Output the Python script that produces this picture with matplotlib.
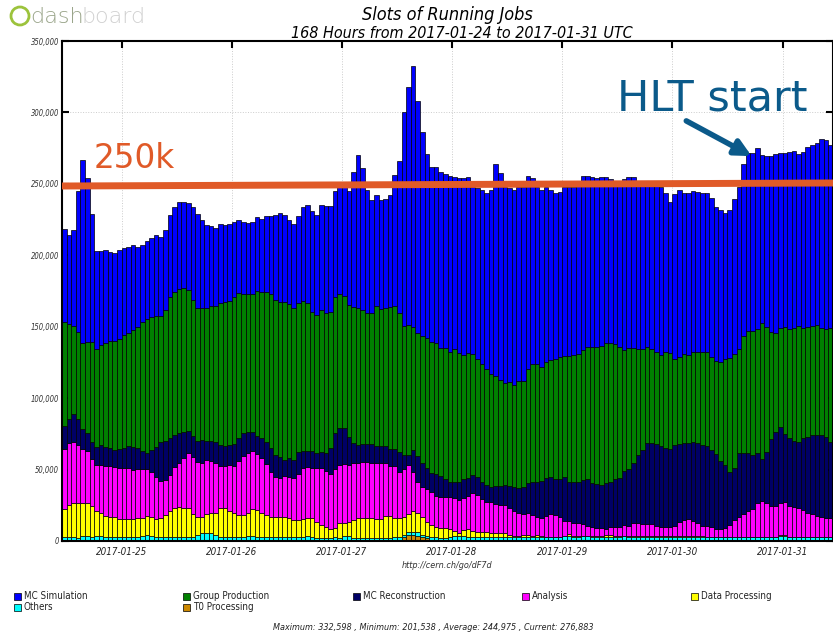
import numpy as np
import matplotlib
matplotlib.use("Agg")
from matplotlib import pyplot as plt
from matplotlib.patches import Rectangle, Ellipse

# ---- data (thousands of slots, one value per hour, 2017-01-24 11:00 .. 2017-01-31 10:00) ----
start_hour = 11
day_labels = ["2017-01-25", "2017-01-26", "2017-01-27", "2017-01-28",
              "2017-01-29", "2017-01-30", "2017-01-31"]

mc_simulation = [
    65.4, 62.1, 67.3, 99.0, 128.1, 114.5, 89.2, 68.8, 65.6, 65.2, 62.3, 61.5, 62.1, 60.8,
    59.7, 59.8, 56.0, 54.2, 54.8, 55.4, 56.7, 55.6, 55.8, 57.4, 59.5, 61.3, 60.2, 60.7,
    64.9, 65.4, 61.7, 57.7, 56.0, 54.8, 55.2, 53.5, 53.8, 52.9, 51.2, 50.4, 49.3, 50.3,
    51.4, 51.0, 53.0, 55.0, 59.7, 62.3, 60.9, 59.1, 58.7, 61.3, 65.4, 69.0, 70.5, 69.8,
    73.3, 74.7, 74.0, 74.0, 75.6, 76.5, 79.8, 94.0, 106.7, 99.3, 85.9, 79.3, 77.5, 76.6,
    76.5, 78.0, 91.5, 106.2, 149.5, 166.8, 182.6, 162.2, 143.0, 128.8, 122.1, 123.2, 122.7, 122.1,
    123.0, 120.8, 122.2, 124.0, 123.2, 117.1, 119.8, 122.1, 123.6, 129.1, 148.5, 145.1, 137.2, 135.5,
    136.8, 135.8, 135.8, 135.5, 130.1, 124.1, 124.0, 122.5, 119.3, 116.4, 115.9, 118.3, 118.3, 117.6,
    119.3, 122.3, 119.9, 118.5, 118.3, 118.3, 116.6, 114.4, 112.1, 114.0, 119.5, 119.7, 119.9, 114.4,
    114.4, 113.0, 114.8, 116.5, 117.4, 110.9, 106.1, 115.8, 116.7, 112.5, 113.5, 112.7, 112.0, 111.3,
    111.4, 111.3, 107.4, 106.2, 102.4, 103.6, 108.7, 113.4, 120.4, 124.2, 124.2, 126.7, 117.8, 119.9,
    123.4, 124.9, 122.5, 121.4, 124.3, 124.1, 120.2, 123.2, 125.8, 126.9, 127.0, 132.1, 132.1, 127.6]

group_production = [
    72.3, 66.5, 62.0, 60.6, 60.2, 64.1, 70.0, 68.2, 70.2, 73.2, 75.3, 76.3, 77.4, 79.3,
    79.3, 81.7, 84.7, 90.5, 93.4, 92.9, 91.3, 87.9, 91.7, 98.7, 100.1, 100.8, 100.8, 98.8,
    95.2, 93.1, 92.6, 93.5, 94.7, 95.1, 99.6, 100.8, 101.0, 102.7, 101.9, 97.7, 96.6, 97.0,
    101.7, 102.6, 105.0, 107.8, 108.5, 108.1, 110.4, 108.0, 106.6, 104.3, 105.2, 103.4, 97.5, 96.4,
    99.2, 98.0, 95.6, 95.6, 93.6, 92.6, 92.6, 95.2, 96.1, 93.8, 91.9, 91.5, 97.8, 95.7,
    96.4, 99.8, 100.3, 97.5, 90.5, 90.8, 86.3, 86.3, 89.1, 91.0, 91.7, 91.9, 89.8, 91.3,
    91.0, 93.1, 90.3, 86.6, 87.9, 84.7, 82.6, 82.4, 81.0, 78.9, 76.8, 74.0, 71.6, 72.8,
    71.2, 75.3, 74.2, 79.4, 82.4, 82.8, 80.0, 81.6, 82.1, 84.0, 85.2, 85.1, 88.2, 88.9,
    89.2, 91.0, 92.4, 95.6, 96.1, 97.5, 98.0, 97.7, 94.7, 91.7, 84.7, 84.7, 80.3, 74.4,
    70.9, 67.6, 65.8, 64.6, 63.9, 67.2, 67.2, 60.0, 61.1, 62.5, 62.0, 62.6, 63.7, 64.9,
    66.0, 64.9, 65.5, 69.3, 74.2, 79.6, 79.4, 73.2, 81.7, 85.4, 87.0, 86.8, 95.2, 87.5,
    74.9, 69.5, 69.7, 75.3, 76.3, 79.1, 81.4, 77.4, 76.8, 76.3, 77.2, 74.9, 76.0, 79.8]

mc_reconstruction = [
    16.3, 16.6, 19.2, 18.2, 14.0, 12.2, 12.1, 12.8, 14.0, 13.1, 12.2, 12.1, 12.9, 13.6,
    15.2, 16.3, 14.7, 12.6, 11.6, 15.2, 21.0, 27.5, 27.5, 25.7, 22.4, 21.0, 18.6, 15.7,
    14.9, 14.7, 15.9, 13.1, 13.8, 14.7, 14.7, 14.2, 14.0, 15.2, 15.7, 15.9, 14.7, 13.1,
    12.8, 14.0, 15.8, 16.4, 15.6, 15.1, 11.2, 13.3, 12.8, 15.2, 12.1, 11.0, 11.7, 10.9,
    11.6, 12.6, 18.0, 25.2, 26.1, 25.0, 19.4, 14.4, 12.4, 12.4, 12.4, 13.1, 12.3, 11.9,
    11.7, 11.7, 11.7, 13.8, 9.6, 7.2, 15.2, 18.0, 16.4, 14.7, 13.3, 15.2, 14.5, 13.0,
    10.5, 11.2, 12.8, 13.5, 12.4, 12.8, 12.4, 12.3, 11.7, 10.5, 12.8, 13.5, 14.0, 15.8,
    16.8, 17.5, 19.3, 21.4, 23.3, 24.5, 25.7, 26.4, 25.9, 25.2, 26.8, 30.4, 27.3, 29.1,
    29.1, 30.3, 32.7, 30.8, 31.0, 30.3, 32.2, 31.5, 33.2, 34.3, 37.8, 39.9, 42.4, 47.4,
    51.8, 56.7, 56.7, 57.4, 56.5, 55.3, 54.2, 56.7, 54.4, 53.7, 53.0, 55.3, 56.0, 56.7,
    56.0, 54.1, 52.3, 47.8, 43.9, 37.3, 36.6, 44.4, 42.9, 40.6, 38.0, 34.6, 29.2, 35.7,
    46.5, 51.8, 52.8, 47.2, 47.2, 46.0, 46.0, 50.2, 53.6, 55.5, 56.7, 57.6, 56.7, 53.6]

analysis = [
    42.2, 43.6, 43.1, 40.8, 37.8, 36.4, 32.9, 32.0, 33.4, 35.0, 35.7, 34.6, 36.1, 36.1,
    36.1, 34.5, 34.3, 33.9, 32.7, 31.5, 29.8, 25.7, 24.5, 25.0, 28.7, 30.4, 34.6, 38.6,
    39.9, 38.5, 37.8, 37.8, 36.2, 34.6, 29.6, 29.6, 32.0, 32.9, 38.0, 41.3, 42.0, 40.8,
    39.0, 38.5, 35.5, 31.5, 27.6, 26.9, 28.9, 28.7, 29.2, 32.2, 35.7, 35.7, 35.4, 37.4,
    39.7, 39.6, 38.7, 41.3, 40.8, 41.1, 39.7, 39.7, 38.9, 39.6, 39.2, 38.9, 39.0, 39.4,
    37.1, 34.8, 36.6, 32.6, 33.8, 34.5, 27.3, 22.1, 21.0, 22.7, 23.3, 21.7, 21.7, 21.7,
    22.8, 22.7, 22.9, 22.2, 23.3, 26.2, 25.7, 22.7, 21.4, 22.1, 20.5, 19.8, 19.8, 18.9,
    17.5, 15.7, 14.7, 15.4, 14.5, 12.6, 12.8, 14.5, 15.7, 15.2, 13.6, 10.5, 9.5, 8.7,
    9.1, 8.4, 6.7, 6.3, 5.6, 5.6, 4.2, 5.6, 6.7, 6.7, 7.4, 7.4, 9.1, 9.5,
    8.6, 8.4, 8.4, 7.2, 6.7, 6.7, 6.7, 7.2, 10.2, 11.4, 12.1, 10.9, 9.5, 7.2,
    7.7, 6.8, 5.6, 5.6, 6.5, 8.4, 11.9, 14.2, 16.1, 18.4, 19.4, 24.0, 25.2, 23.6,
    21.9, 21.7, 22.9, 23.6, 21.9, 21.2, 20.5, 18.9, 16.6, 15.9, 14.7, 13.8, 13.1, 13.1]

data_processing = [
    19.6, 22.6, 23.8, 24.1, 23.2, 23.1, 21.7, 18.0, 16.6, 14.5, 14.4, 14.4, 12.6, 12.2,
    12.2, 12.6, 12.9, 12.6, 13.5, 13.8, 12.6, 13.7, 15.6, 18.6, 20.7, 21.4, 20.7, 20.3,
    16.1, 12.5, 11.7, 13.6, 14.5, 15.3, 19.9, 20.3, 18.6, 17.2, 15.6, 15.6, 16.3, 18.7,
    19.1, 16.8, 15.6, 14.4, 14.4, 14.4, 14.0, 13.3, 12.1, 12.1, 12.6, 13.1, 13.3, 11.2,
    9.2, 7.6, 6.2, 6.4, 10.4, 9.3, 10.0, 12.7, 13.9, 13.9, 14.3, 13.9, 13.4, 13.4,
    15.7, 15.7, 13.4, 12.9, 12.1, 12.2, 14.7, 13.4, 12.5, 10.0, 8.7, 7.5, 7.0, 6.6,
    5.6, 3.7, 2.3, 4.2, 5.6, 4.6, 3.9, 3.9, 3.5, 2.8, 2.8, 2.8, 2.8, 1.4,
    1.1, 1.1, 1.4, 1.4, 1.1, 1.4, 0.9, 0.4, 0.4, 0.4, 0.4, 0.5, 1.5, 1.1,
    0.3, 0.3, 0.3, 0.3, 0.3, 0.3, 1.0, 1.0, 0.3, 0.3, 0.3, 0.3, 0.3, 0.3,
    0.3, 0.3, 0.3, 0.3, 0.3, 0.3, 0.3, 0.3, 0.3, 0.3, 0.3, 0.3, 0.3, 0.3,
    0.2, 0.2, 0.2, 0.2, 0.2, 0.2, 0.2, 0.2, 0.2, 0.2, 0.2, 0.2, 0.2, 0.2,
    0.2, 0.2, 0.2, 0.2, 0.2, 0.2, 0.2, 0.2, 0.2, 0.2, 0.2, 0.2, 0.2, 0.2]

others = [
    2.6, 2.6, 2.6, 2.3, 3.2, 3.7, 2.8, 3.2, 3.2, 3.0, 2.6, 2.6, 2.6, 3.0,
    3.0, 2.6, 3.0, 3.7, 4.0, 3.2, 2.6, 2.6, 2.6, 2.6, 2.6, 2.6, 2.6, 2.6,
    2.6, 4.5, 5.3, 5.3, 5.3, 4.5, 3.0, 2.6, 2.6, 2.6, 2.6, 2.6, 3.5, 3.5,
    2.6, 2.6, 2.6, 2.6, 2.6, 2.6, 2.6, 2.6, 2.6, 2.6, 2.6, 3.2, 2.6, 2.3,
    2.0, 2.0, 2.0, 2.5, 2.0, 3.5, 3.5, 2.0, 2.0, 2.0, 2.0, 2.0, 2.0, 2.0,
    2.0, 2.0, 2.5, 2.2, 2.0, 2.5, 2.3, 2.2, 1.7, 1.5, 1.5, 2.0, 2.3, 2.3,
    2.6, 3.5, 3.5, 3.5, 2.6, 2.6, 2.6, 2.6, 2.6, 2.6, 2.6, 2.6, 2.6, 2.6,
    2.6, 2.6, 2.6, 2.6, 2.6, 2.6, 2.6, 2.6, 2.6, 2.6, 2.6, 3.2, 3.2, 2.6,
    3.0, 3.5, 3.5, 3.0, 3.0, 3.0, 3.0, 3.0, 3.0, 3.0, 3.5, 3.0, 3.0, 3.0,
    3.0, 3.0, 3.0, 3.0, 3.0, 3.0, 3.0, 3.0, 3.0, 3.0, 3.0, 3.0, 3.0, 3.0,
    2.6, 2.6, 2.6, 2.6, 2.6, 2.6, 2.6, 2.6, 2.6, 2.6, 2.6, 2.6, 2.6, 2.6,
    2.6, 2.6, 3.7, 3.7, 2.6, 2.6, 2.6, 2.6, 2.6, 2.6, 2.6, 2.6, 2.6, 2.6]

# T0 only runs for a few hours on 01-27 evening
t0_processing = [0.0] * 73 + [0.8, 2.5, 4.0, 4.2, 3.8, 2.8, 2.0, 1.0, 0.5] + [0.0] * 86

# hand-drawn "250k" marker line (value at left and right end)
line_250k = [248500, 250600]

stats_text = "Maximum: 332,598 , Minimum: 201,538 , Average: 244,975 , Current: 276,883"

#---colours, stacking order bottom -> top---
series = [
    ("T0 Processing", t0_processing, "#cc8800"),
    ("Others", others, "#00ffff"),
    ("Data Processing", data_processing, "#ffff00"),
    ("Analysis", analysis, "#ff00ff"),
    ("MC Reconstruction", mc_reconstruction, "#000066"),
    ("Group Production", group_production, "#008000"),
    ("MC Simulation", mc_simulation, "#0000ff"),
]

W, H = 833, 634
fig = plt.figure(figsize=(W / 100, H / 100), dpi=100)

def fx(px):
    return px / W

def fy(py):
    return 1 - py / H

cond = dict(family="DejaVu Sans", stretch="condensed")

ax = fig.add_axes([fx(62), fy(541), fx(833 - 62), 500 / H])

n = len(mc_simulation)
hours = np.arange(n)
bottom = np.zeros(n)
for name, vals, col in series:
    v = np.array(vals) * 1000
    ax.bar(hours, v, width=1.0, bottom=bottom, align="edge", color=col,
           edgecolor="black", linewidth=0.5, zorder=2)
    bottom += v

ax.set_xlim(0, n)
ax.set_ylim(0, 350000)

day_ticks = [24 - start_hour + 24 * k for k in range(len(day_labels))]
ax.set_xticks(day_ticks)
ax.set_xticklabels(day_labels, style="italic", fontsize=7, color="#222222", **cond)
yt = np.arange(0, 350001, 50000)
ax.set_yticks(yt)
ax.set_yticklabels([f"{v:,}" for v in yt], style="italic", fontsize=5.5, color="#333333", **cond)
ax.tick_params(direction="in", top=True, right=True, length=5, width=1.5)
ax.tick_params(axis="y", pad=2)
ax.tick_params(axis="x", pad=4)
ax.grid(True, linestyle=":", color="#cccccc", linewidth=0.7, zorder=0)
ax.set_axisbelow(True)
for s in ax.spines.values():
    s.set_linewidth(1.5)

# annotations
ax.plot([0, n], line_250k, color="#e05a28", linewidth=5, solid_capstyle="butt", zorder=5)
ax.text(6.8, 261000, "250k", color="#e05a28", fontsize=23.5, zorder=6)
ax.text(121, 301500, "HLT start", color="#0b5a8a", fontsize=31, zorder=6)
ax.annotate("", xy=(150.8, 268500), xytext=(135.5, 295000), zorder=6,
            arrowprops=dict(arrowstyle="-|>", color="#0b5a8a", lw=4, mutation_scale=24))

# titles
fig.text(fx(447), fy(15), "Slots of Running Jobs", ha="center", va="center",
         fontsize=13, style="italic", **cond)
fig.text(fx(462), fy(33), "168 Hours from 2017-01-24 to 2017-01-31 UTC", ha="center",
         va="center", fontsize=11.5, style="italic", **cond)
fig.text(fx(447), fy(565), "http://cern.ch/go/dF7d", ha="center", va="center",
         fontsize=6.5, style="italic", color="#333333", **cond)
fig.text(fx(433), fy(628), stats_text, ha="center", va="center",
         fontsize=6.5, style="italic", color="#222222", **cond)

# logo
fig.add_artist(Ellipse((fx(20), fy(16)), 18 / W, 18 / H, transform=fig.transFigure,
                       facecolor="none", edgecolor="#9cc33c", linewidth=2))
fig.text(fx(30), fy(17), "dash", ha="left", va="center", fontsize=16,
         color="#9aa58a", family="DejaVu Sans", weight="light")
fig.text(fx(82), fy(17), "board", ha="left", va="center", fontsize=16,
         color="#d0d0d0", family="DejaVu Sans", weight="light")

# legend (row-wise, like the dashboard)
legend_order = ["MC Simulation", "Group Production", "MC Reconstruction", "Analysis",
                "Data Processing", "Others", "T0 Processing"]
colours = {name: col for name, _, col in series}
col_x = [14, 183, 353, 522, 691]
for k, name in enumerate(legend_order):
    x0 = col_x[k % 5]
    y0 = 596 + 11 * (k // 5)
    fig.add_artist(Rectangle((fx(x0), fy(y0 + 3.5)), 7 / W, 7 / H, transform=fig.transFigure,
                             facecolor=colours[name], edgecolor="black", linewidth=0.5))
    fig.text(fx(x0 + 10), fy(y0), name, ha="left", va="center", fontsize=7,
             color="#222222", **cond)

fig.savefig("out.png", dpi=100)
